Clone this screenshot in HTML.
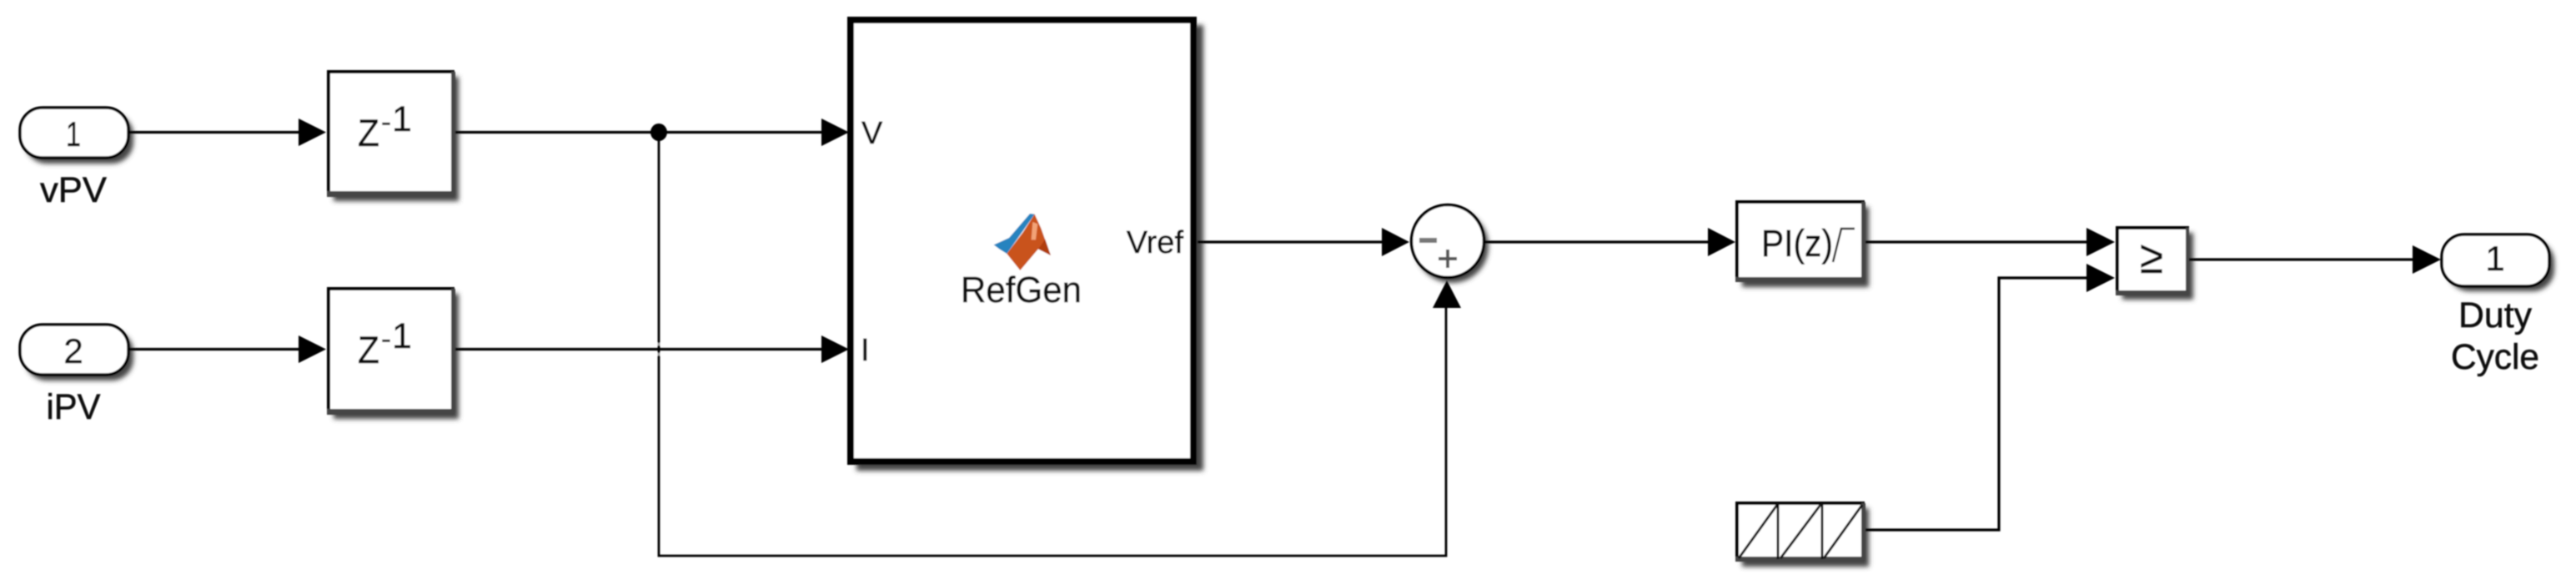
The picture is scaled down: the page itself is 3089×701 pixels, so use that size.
<!DOCTYPE html>
<html><head><meta charset="utf-8"><style>
html,body{margin:0;padding:0;background:#fff;width:3089px;height:701px;overflow:hidden}
svg{display:block}
text{font-family:"Liberation Sans",sans-serif;font-size:42px;fill:#111;stroke:#111;stroke-width:.5px}
</style></head><body>
<svg width="3089" height="701" viewBox="0 0 3089 701" xmlns="http://www.w3.org/2000/svg">
<defs>
<filter id="s" x="-30%" y="-30%" width="160%" height="160%"><feGaussianBlur stdDeviation="3"/></filter>
<filter id="b" x="-2%" y="-5%" width="104%" height="110%"><feGaussianBlur stdDeviation="0.7"/></filter>
</defs>
<g filter="url(#b)">
<!-- shadows -->
<g fill="#444" filter="url(#s)">
<rect x="30" y="136" width="130" height="60" rx="26"/>
<rect x="30" y="396" width="130" height="60" rx="26"/>
<rect x="400" y="92" width="150" height="149"/>
<rect x="400" y="352" width="150" height="150"/>
<rect x="1027" y="30" width="416" height="534"/>
<circle cx="1741" cy="295" r="44"/>
<rect x="2089" y="248" width="152" height="96"/>
<rect x="2089" y="609" width="152" height="70"/>
<rect x="2545" y="279" width="85" height="80"/>
<rect x="2935" y="288" width="128" height="61" rx="26"/>
</g>
<!-- wires -->
<g fill="none" stroke="#000" stroke-width="3.2">
<path d="M154 158.5H360M544 158.5H987"/>
<path d="M154 418.5H360M544 418.5H987"/>
<path d="M1436 290H1660M1780 290H2050M2235 290H2505M2237 635H2397V333H2505M2624 311H2895"/>
</g>
<path d="M790 158V666H1734V365" fill="none" stroke="#000" stroke-width="2.8"/>
<rect x="786" y="411" width="8" height="3" fill="#fff" opacity=".6"/>
<rect x="786" y="423" width="8" height="3" fill="#fff" opacity=".6"/>
<ellipse cx="790" cy="158.5" rx="10" ry="10.5" fill="#000"/>
<!-- arrowheads -->
<g fill="#000">
<path d="M358 142L391 158.5L358 175Z"/>
<path d="M358 402L391 418.5L358 435Z"/>
<path d="M985 142L1018 158.5L985 175Z"/>
<path d="M985 402L1018 418.5L985 435Z"/>
<path d="M1657 273L1690 290L1657 307Z"/>
<path d="M1718 369L1735 336L1752 369Z"/>
<path d="M2048 273L2081 290L2048 307Z"/>
<path d="M2502 273L2536 290L2502 307Z"/>
<path d="M2502 316L2536 333L2502 350Z"/>
<path d="M2893 294L2927 311L2893 328Z"/>
</g>
<!-- blocks -->
<g fill="#fff" stroke="#000">
<rect x="24" y="129" width="130" height="60" rx="27" stroke-width="3.5"/>
<rect x="24" y="389" width="130" height="60" rx="27" stroke-width="3.5"/>
<rect x="394" y="86" width="149" height="147" stroke-width="4"/>
<rect x="394" y="346" width="149" height="148" stroke-width="4"/>
<rect x="1020" y="24" width="411" height="529" stroke-width="8"/>
<circle cx="1736" cy="289" r="43.5" stroke-width="3.5"/>
<rect x="2083" y="242" width="151" height="94" stroke-width="4"/>
<rect x="2083" y="603" width="151" height="68" stroke-width="4"/>
<rect x="2539" y="273" width="84" height="79" stroke-width="4"/>
<rect x="2928" y="281" width="129" height="62" rx="27" stroke-width="3.5"/>
</g>
<!-- lower block edges -->
<g fill="#444">
<rect x="392" y="229" width="153" height="7"/><rect x="541" y="86" width="5" height="148"/>
<rect x="392" y="490" width="153" height="7"/><rect x="541" y="346" width="5" height="148"/>
<rect x="2081" y="332" width="155" height="6"/><rect x="2232" y="242" width="5" height="94"/>
<rect x="2081" y="667" width="155" height="6"/><rect x="2232" y="603" width="5" height="68"/>
<rect x="2537" y="348" width="88" height="6"/><rect x="2621" y="273" width="4" height="79"/>
</g>
<!-- sawtooth -->
<g fill="none" stroke="#111" stroke-width="3">
<path d="M2132 603V670M2185 603V670"/>
<path d="M2085 669L2131 605M2135 669L2183 605M2187 669L2233 605"/>
</g>
<!-- sum signs -->
<rect x="1702" y="285" width="21" height="6" fill="#777"/>
<path d="M1725 310H1747M1736 299V321" stroke="#555" stroke-width="4" fill="none"/>
<!-- logo -->
<g transform="translate(1120 230) scale(.3333)">
<path d="M215 190L270 165L345 78L362 80L320 140L262 222L235 205Z" fill="#2583bf"/>
<path d="M362 80L385 130L420 228L375 205L310 282L262 222L320 145Z" fill="#c9531d"/>
<path d="M355 108L373 115L366 172L350 172Z" fill="#f2a377"/>
<path d="M375 205L420 228L400 170Z" fill="#b03c10"/>
</g>
<!-- labels -->
<text x="88" y="175" text-anchor="middle" textLength="18" lengthAdjust="spacingAndGlyphs">1</text>
<text x="88" y="435" text-anchor="middle">2</text>
<text x="88" y="242" text-anchor="middle" textLength="80" lengthAdjust="spacingAndGlyphs" style="font-size:43px">vPV</text>
<text x="88" y="502" text-anchor="middle" textLength="65" lengthAdjust="spacingAndGlyphs" style="font-size:43px">iPV</text>
<g><text x="429" y="175" style="font-size:45px" textLength="26" lengthAdjust="spacingAndGlyphs">Z</text><text x="457" y="156" style="font-size:30px" textLength="12" lengthAdjust="spacingAndGlyphs">-</text><text x="470" y="157" style="font-size:43px">1</text></g>
<g><text x="429" y="435" style="font-size:45px" textLength="26" lengthAdjust="spacingAndGlyphs">Z</text><text x="457" y="416" style="font-size:30px" textLength="12" lengthAdjust="spacingAndGlyphs">-</text><text x="470" y="417" style="font-size:43px">1</text></g>
<text x="1033" y="172" style="font-size:38px">V</text>
<text x="1032" y="432" style="font-size:38px">I</text>
<text x="1419" y="303" text-anchor="end" style="font-size:38px">Vref</text>
<text x="1152" y="362" style="font-size:44px" textLength="145" lengthAdjust="spacingAndGlyphs">RefGen</text>
<text x="2112" y="307" style="font-size:45px" textLength="86" lengthAdjust="spacingAndGlyphs">PI(z)</text>
<path d="M2198 314L2208 274H2224" fill="none" stroke="#222" stroke-width="2.5"/>
<text x="2580" y="327" text-anchor="middle" textLength="28" lengthAdjust="spacingAndGlyphs" style="font-size:56px">≥</text>
<text x="2992" y="324" text-anchor="middle">1</text>
<text x="2948" y="392" style="font-size:43px" textLength="88" lengthAdjust="spacingAndGlyphs">Duty</text>
<text x="2939" y="442" style="font-size:43px" textLength="106" lengthAdjust="spacingAndGlyphs">Cycle</text>
</g>
</svg>
</body></html>
